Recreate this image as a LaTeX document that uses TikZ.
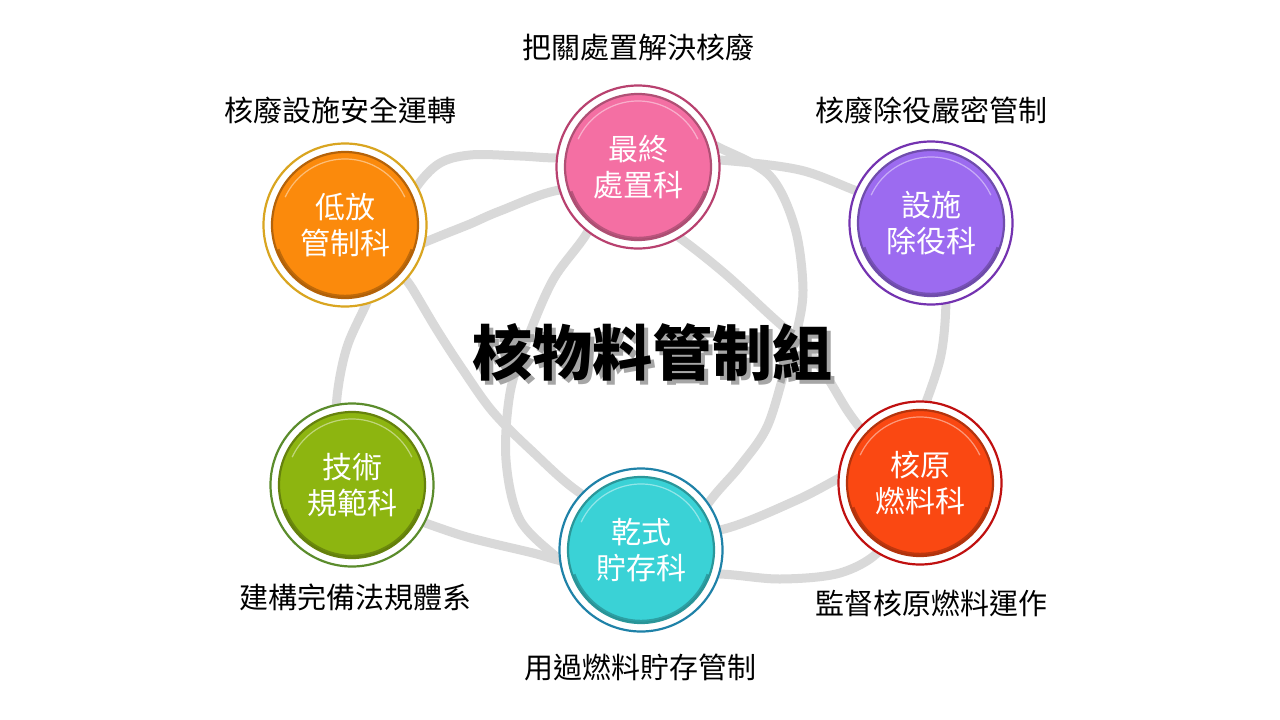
\documentclass[tikz,border=0pt]{standalone}
\usepackage{fontspec}
\newfontfamily\cjk{Noto Sans CJK TC}
\usetikzlibrary{calc}
\definecolor{loopgray}{HTML}{D9D9D9}
\definecolor{pinkf}{HTML}{F46FA3}\definecolor{pinkr}{HTML}{B8416F}
\definecolor{orangef}{HTML}{FB8A0C}\definecolor{oranger}{HTML}{D9A520}
\definecolor{purplef}{HTML}{9C6BF0}\definecolor{purpler}{HTML}{7433B0}
\definecolor{redf}{HTML}{FA4812}\definecolor{redr}{HTML}{C01010}
\definecolor{cyanf}{HTML}{3AD2D6}\definecolor{cyanr}{HTML}{1F82A8}
\definecolor{greenf}{HTML}{8DB510}\definecolor{greenr}{HTML}{5B8C2C}
\tikzset{
  loopline/.style={draw=loopgray, line width=9pt},
  ringc/.style={circle, minimum size=163pt, inner sep=0pt, line width=2.2pt, fill=white},
  disk/.style={circle, minimum size=146pt, inner sep=0pt, line width=2.2pt},
  intxt/.style={font=\cjk\fontsize{30}{36}\selectfont, text=white, align=center},
  lab/.style={font=\cjk\fontsize{29}{34}\selectfont, text=black, inner sep=0pt},
  ttl/.style={font=\cjk\bfseries\fontsize{60}{60}\selectfont, inner sep=0pt}
}
\newcommand\drawsect[5]{%
  \node[ringc, draw=#4] (#1) at (#2) {};
  \node[disk, fill=#3, draw=#3!72!black] (#1d) at (#2) {};
  \draw[#3!60!black, line width=2.5pt, opacity=0.6] ($(#2)+(20:71)$) arc[start angle=20, end angle=160, radius=71];
  \draw[white, line width=1.2pt, opacity=0.45] ($(#2)+(205:66)$) arc[start angle=205, end angle=335, radius=66];
  \node[intxt] (#1t) at (#2) {#5};
}
\begin{document}
\begin{tikzpicture}[x=1pt, y=-1pt]
\useasboundingbox (0,0) rectangle (1280,720);
\fill[white] (0,0) rectangle (1280,720);
% background loops
\draw[loopline] plot[smooth cycle, tension=0.55] coordinates {
 (337,397) (337,445) (350,492) (380,512) (410,518) (467,537) (533,553) (567,562)
 (640,573) (720,574) (780,579) (840,573) (880,550) (893,510) (905,457) (924,408)
 (941,355) (946,300) (943,250) (925,212) (895,199) (860,192) (800,170) (720,160)
 (640,156) (560,158) (520,156) (470,155) (437,165) (410,197) (388,250) (368,300)
 (347,347)};
\draw[loopline] plot[smooth cycle, tension=0.55] coordinates {
 (395,262) (415,247) (440,236) (470,224) (500,211) (560,190) (615,196) (673,233)
 (723,272) (770,315) (805,347) (827,377) (847,410) (864,433) (880,452) (876,466)
 (853,471) (797,500) (720,530) (650,532) (580,493) (533,452) (493,412) (463,370)
 (437,330) (412,288)};
\draw[loopline] plot[smooth cycle, tension=0.55] coordinates {
 (650,132) (690,136) (720,148) (770,176) (795,228) (803,290) (796,335) (785,370)
 (767,427) (740,466) (707,505) (665,572) (622,594) (585,580) (560,560) (520,520)
 (506,460) (510,393) (527,340) (553,280) (587,233) (615,178)};
% sections
\drawsect{s1}{638,167}{pinkf}{pinkr}{最終\\處置科}
\drawsect{s2}{931,223}{purplef}{purpler}{設施\\除役科}
\drawsect{s3}{920,483}{redf}{redr}{核原\\燃料科}
\drawsect{s4}{641,550}{cyanf}{cyanr}{乾式\\貯存科}
\drawsect{s5}{352,485}{greenf}{greenr}{技術\\規範科}
\drawsect{s6}{345,225}{orangef}{oranger}{低放\\管制科}
% labels
\node[lab] (l1) at (638,47) {把關處置解決核廢};
\node[lab] (l2) at (931,110) {核廢除役嚴密管制};
\node[lab] (l3) at (931,603) {監督核原燃料運作};
\node[lab] (l4) at (640,667) {用過燃料貯存管制};
\node[lab] (l5) at (355,597) {建構完備法規體系};
\node[lab] (l6) at (340,110) {核廢設施安全運轉};
% title with soft shadow
\node[ttl, text=black!35] (titleshadow) at (656,356) {核物料管制組};
\node[ttl, text=black] (title) at (652,352) {核物料管制組};
\end{tikzpicture}
\end{document}
